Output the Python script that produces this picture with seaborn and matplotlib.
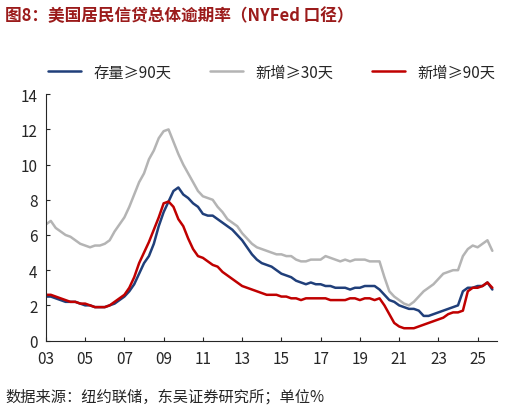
import matplotlib
matplotlib.use("Agg")
import matplotlib.pyplot as plt
import seaborn as sns
import numpy as np
import pandas as pd

sns.set_style("ticks")
plt.rcParams['font.family'] = ['Noto Sans CJK SC', 'DejaVu Sans']

stock90 = [2.5,2.5,2.4,2.3, 2.2,2.2,2.2,2.1, 2.0,2.0,1.9,1.9, 1.9,2.0,2.1,2.3,
           2.5,2.8,3.2,3.8, 4.4,4.8,5.5,6.5, 7.3,7.9,8.5,8.7, 8.3,8.1,7.8,7.6,
           7.2,7.1,7.1,6.9, 6.7,6.5,6.3,6.0, 5.7,5.3,4.9,4.6, 4.4,4.3,4.2,4.0,
           3.8,3.7,3.6,3.4, 3.3,3.2,3.3,3.2, 3.2,3.1,3.1,3.0, 3.0,3.0,2.9,3.0,
           3.0,3.1,3.1,3.1, 2.9,2.6,2.3,2.2, 2.0,1.9,1.8,1.8, 1.7,1.4,1.4,1.5,
           1.6,1.7,1.8,1.9, 2.0,2.8,3.0,3.0, 3.1,3.1,3.3,2.9]
new30 = [6.6,6.8,6.4,6.2, 6.0,5.9,5.7,5.5, 5.4,5.3,5.4,5.4, 5.5,5.7,6.2,6.6,
         7.0,7.6,8.3,9.0, 9.5,10.3,10.8,11.5, 11.9,12.0,11.3,10.6, 10.0,9.5,9.0,8.5,
         8.2,8.1,8.0,7.6, 7.3,6.9,6.7,6.5, 6.1,5.8,5.5,5.3, 5.2,5.1,5.0,4.9,
         4.9,4.8,4.8,4.6, 4.5,4.5,4.6,4.6, 4.6,4.8,4.7,4.6, 4.5,4.6,4.5,4.6,
         4.6,4.6,4.5,4.5, 4.5,3.6,2.8,2.5, 2.3,2.1,2.0,2.2, 2.5,2.8,3.0,3.2,
         3.5,3.8,3.9,4.0, 4.0,4.8,5.2,5.4, 5.3,5.5,5.7,5.1]
new90 = [2.6,2.6,2.5,2.4, 2.3,2.2,2.2,2.1, 2.1,2.0,1.9,1.9, 1.9,2.0,2.2,2.4,
         2.6,3.0,3.6,4.4, 5.0,5.6,6.3,7.0, 7.8,7.9,7.6,6.9, 6.5,5.8,5.2,4.8,
         4.7,4.5,4.3,4.2, 3.9,3.7,3.5,3.3, 3.1,3.0,2.9,2.8, 2.7,2.6,2.6,2.6,
         2.5,2.5,2.4,2.4, 2.3,2.4,2.4,2.4, 2.4,2.4,2.3,2.3, 2.3,2.3,2.4,2.4,
         2.3,2.4,2.4,2.3, 2.4,2.0,1.5,1.0, 0.8,0.7,0.7,0.7, 0.8,0.9,1.0,1.1,
         1.2,1.3,1.5,1.6, 1.6,1.7,2.8,3.0, 3.0,3.1,3.3,3.0]
years = [2003 + i/4 for i in range(len(stock90))]
labels = ["存量≥90天", "新增≥30天", "新增≥90天"]
tick_years = list(range(2003, 2026, 2))
tick_labels = [f"{y%100:02d}" for y in tick_years]

df = pd.DataFrame({"t": years * 3,
                   "v": stock90 + new30 + new90,
                   "s": [labels[0]]*len(years) + [labels[1]]*len(years) + [labels[2]]*len(years)})

fig = plt.figure(figsize=(5.10, 4.14), dpi=100)
ax = fig.add_axes([0.09, 0.175, 0.885, 0.595])
sns.lineplot(data=df, x="t", y="v", hue="s", hue_order=labels,
             palette=["#203f7a", "#b4b4b4", "#c00000"], linewidth=1.8, ax=ax)
ax.set_xlim(2003, 2026)
ax.set_ylim(0, 14)
ax.set_yticks(range(0, 15, 2))
ax.set_xticks(tick_years)
ax.set_xticklabels(tick_labels)
ax.set_xlabel(""); ax.set_ylabel("")
ax.tick_params(labelsize=11, direction="in", length=3)
ax.tick_params(axis="x", pad=7)
ax.tick_params(axis="y", pad=6)
for s in ["top", "right"]:
    ax.spines[s].set_visible(False)
ax.legend(loc="lower center", bbox_to_anchor=(0.5, 1.0), ncol=3, frameon=False,
          fontsize=11, handlelength=2.2, columnspacing=2.5)
fig.text(0.01, 0.96, "图8：美国居民信贷总体逾期率（NYFed 口径）", color="#9b1b1b",
         fontsize=12, fontweight="bold", va="center")
fig.text(0.01, 0.04, "数据来源：纽约联储，东吴证券研究所；单位%", fontsize=11, va="center")
fig.savefig("out.png", dpi=100)
